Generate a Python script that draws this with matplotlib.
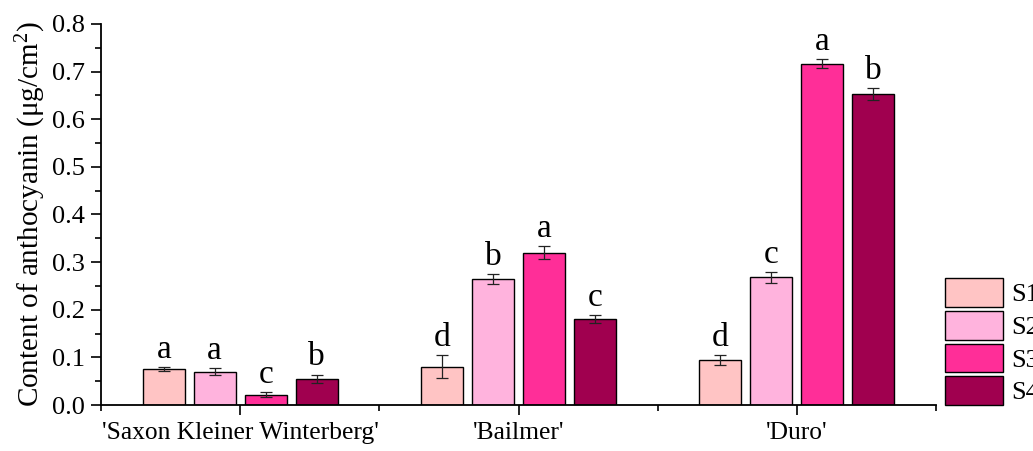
import matplotlib
matplotlib.use("Agg")
import matplotlib.pyplot as plt
import numpy as np
from matplotlib.ticker import MultipleLocator, FixedLocator

plt.rcParams['font.family'] = ['Liberation Serif', 'DejaVu Serif']
plt.rcParams['mathtext.fontset'] = 'custom'
plt.rcParams['mathtext.rm'] = 'Liberation Serif'
plt.rcParams['mathtext.default'] = 'regular'

cultivars = ["'Saxon Kleiner Winterberg'", "'Bailmer'", "'Duro'"]
series = ["S1", "S2", "S3", "S4"]
colors = ["#FFC4C4", "#FFB3DD", "#FF2E98", "#A0004F"]

values = {
    "S1": [0.075, 0.080, 0.095],
    "S2": [0.070, 0.265, 0.268],
    "S3": [0.022, 0.320, 0.717],
    "S4": [0.055, 0.180, 0.653],
}
errors = {
    "S1": [0.004, 0.024, 0.010],
    "S2": [0.008, 0.010, 0.012],
    "S3": [0.006, 0.014, 0.009],
    "S4": [0.009, 0.008, 0.013],
}
letters = {
    "S1": ["a", "d", "d"],
    "S2": ["a", "b", "c"],
    "S3": ["c", "a", "a"],
    "S4": ["b", "c", "b"],
}

fig = plt.figure(figsize=(10.33, 4.51), dpi=100)
ax = fig.add_axes([101/1033, 1-405/451, (936-101)/1033, (405-24)/451])

x = np.arange(1, len(cultivars) + 1)
width = 0.151
pitch = 0.183
for i, s in enumerate(series):
    pos = x + (i - 1.5) * pitch
    ax.bar(pos, values[s], width, color=colors[i], edgecolor='black', linewidth=1.0,
           label=s, zorder=2)
    ax.errorbar(pos, values[s], yerr=errors[s], fmt='none', ecolor='#222222',
                elinewidth=0.9, capsize=4.5, capthick=0.9, zorder=3)
    for p, v, e, l in zip(pos, values[s], errors[s], letters[s]):
        ax.text(p, v + e + 0.019, l, ha='center', va='baseline', fontsize=24)

ax.set_xlim(0.5, 3.5)
ax.set_ylim(0, 0.8)
ax.set_xticks(x)
ax.set_xticklabels(cultivars)
ax.xaxis.set_minor_locator(FixedLocator([0.5, 1.5, 2.5, 3.5]))
ax.yaxis.set_major_locator(MultipleLocator(0.1))
ax.yaxis.set_minor_locator(MultipleLocator(0.05))
ax.yaxis.set_major_formatter(matplotlib.ticker.FormatStrFormatter('%.1f'))
ax.tick_params(axis='both', which='major', length=7.5, width=1.2, labelsize=19, direction='out')
ax.tick_params(axis='x', which='major', labelsize=18.4)
ax.tick_params(axis='both', which='minor', length=4, width=1.2, direction='out')
ax.tick_params(axis='x', which='major', pad=5)
ax.tick_params(axis='y', which='major', pad=4)
for side in ['top', 'right']:
    ax.spines[side].set_visible(False)
for side in ['left', 'bottom']:
    ax.spines[side].set_linewidth(1.3)
ax.set_ylabel("Content of anthocyanin (μg/cm$^{2}$)", fontsize=21, labelpad=3)

fig.legend(loc='lower left', bbox_to_anchor=(945/1033, 1-405/451), frameon=False,
           fontsize=19, handlelength=2.2, handleheight=1.3, labelspacing=0.15,
           handletextpad=0.3, borderpad=0, borderaxespad=0)

fig.savefig("out.png", dpi=100)
